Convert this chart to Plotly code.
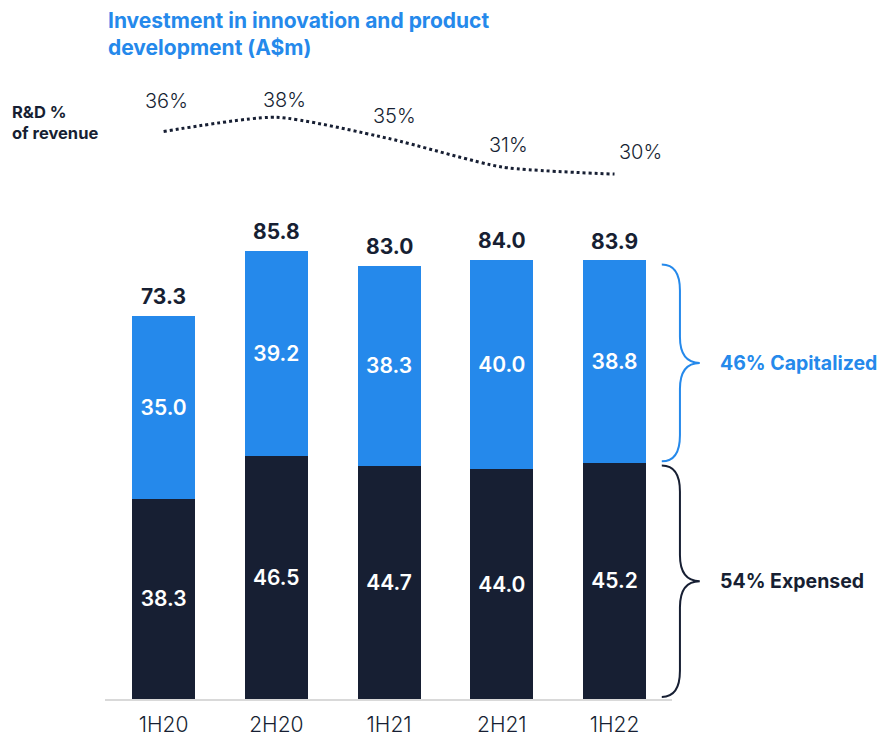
import plotly.graph_objects as go

periods = ['1H20', '2H20', '1H21', '2H21', '1H22']
expensed = [38.3, 46.5, 44.7, 44.0, 45.2]
capitalized = [35.0, 39.2, 38.3, 40.0, 38.8]
totals = [73.3, 85.8, 83.0, 84.0, 83.9]
rd_pct = [36, 38, 35, 31, 30]

title_text = 'Investment in innovation and product<br>development (A$m)'
rd_label = 'R&D %<br>of revenue'
cap_label = '46% Capitalized'
exp_label = '54% Expensed'

BLUE = '#2589EB'
NAVY = '#171F33'
FONT = 'Inter'

# pixel nudges for the % labels above the dotted line
pct_dx = [3, 8, 5, 7, 26]
pct_dy = [30, 17, 23, 22, 22]

fig = go.Figure()

fig.add_trace(go.Bar(
    x=periods, y=expensed, marker_color=NAVY, marker_line_width=0,
    text=[f'{v:.1f}' for v in expensed], textposition='inside',
    insidetextanchor='middle',
    textfont=dict(family=FONT, size=21, color='white', weight=600),
))
fig.add_trace(go.Bar(
    x=periods, y=capitalized, marker_color=BLUE, marker_line_width=0,
    text=[f'{v:.1f}' for v in capitalized], textposition='inside',
    insidetextanchor='middle',
    textfont=dict(family=FONT, size=21, color='white', weight=600),
))
# R&D % of revenue line
fig.add_trace(go.Scatter(
    x=periods, y=rd_pct, mode='lines', yaxis='y2',
    line=dict(color=NAVY, width=3, dash='dot', shape='spline', smoothing=0.6),
    cliponaxis=False,
))
for p, v, dx, dy in zip(periods, rd_pct, pct_dx, pct_dy):
    fig.add_annotation(
        x=p, y=v, yref='y2', text=f'{v}%', showarrow=False,
        xshift=dx, yshift=dy,
        font=dict(family=FONT, size=20, color=NAVY, weight=300),
    )

# totals above the bars
for p, t in zip(periods, totals):
    fig.add_annotation(
        x=p, y=t, text=f'{t:.1f}', showarrow=False,
        yanchor='bottom', yshift=5,
        font=dict(family=FONT, size=21, color=NAVY, weight=700),
    )

fig.update_layout(
    width=880, height=734,
    margin=dict(l=97, r=216, t=32, b=43),
    barmode='stack', bargap=0.44,
    showlegend=False,
    plot_bgcolor='white', paper_bgcolor='white',
    font=dict(family=FONT, color=NAVY),
    xaxis=dict(range=[-0.52, 4.51], showline=True, linecolor='#d9d9d9',
               linewidth=2, ticks='', showgrid=False, zeroline=False,
               ticklabelstandoff=6, automargin=False,
               tickfont=dict(family=FONT, size=21, color=NAVY, weight=300)),
    yaxis=dict(domain=[0, 0.7117], range=[0, 89.8], visible=False,
               showgrid=False),
    yaxis2=dict(domain=[0.757, 1.0], range=[26.34, 48.87], visible=False,
                showgrid=False, anchor='x'),
)

fig.add_annotation(
    text=title_text, xref='paper', yref='paper', x=0.001, y=1.0515,
    xanchor='left', yanchor='top', align='left', showarrow=False,
    font=dict(family=FONT, size=21, color=BLUE, weight=700),
)
fig.add_annotation(
    text=rd_label, xref='paper', yref='paper', x=-0.168, y=0.8748,
    xanchor='left', yanchor='middle', align='left', showarrow=False,
    font=dict(family=FONT, size=16.5, color=NAVY, weight=700),
)


def brace(top, bottom, color):
    x0, xs, xt = 0.982, 1.014, 1.049
    mid = (top + bottom) / 2
    d = 5
    path = (f'M {x0},{top} Q {xs},{top} {xs},{top - d} '
            f'L {xs},{mid + d} Q {xs},{mid} {xt},{mid} '
            f'Q {xs},{mid} {xs},{mid - d} '
            f'L {xs},{bottom + d} Q {xs},{bottom} {x0},{bottom}')
    fig.add_shape(type='path', path=path, xref='paper', yref='y',
                  line=dict(color=color, width=2))
    return mid


last_exp = expensed[-1]
last_total = totals[-1]
cap_mid = brace(last_total - 0.7, last_exp + 0.3, BLUE)
exp_mid = brace(last_exp - 0.5, 0.4, NAVY)

fig.add_annotation(
    text=cap_label, xref='paper', yref='y', x=1.081, y=cap_mid,
    xanchor='left', yanchor='middle', showarrow=False,
    font=dict(family=FONT, size=19.5, color=BLUE, weight=700),
)
fig.add_annotation(
    text=exp_label, xref='paper', yref='y', x=1.081, y=exp_mid,
    xanchor='left', yanchor='middle', showarrow=False,
    font=dict(family=FONT, size=19.5, color=NAVY, weight=700),
)

fig.write_html('out.html')
